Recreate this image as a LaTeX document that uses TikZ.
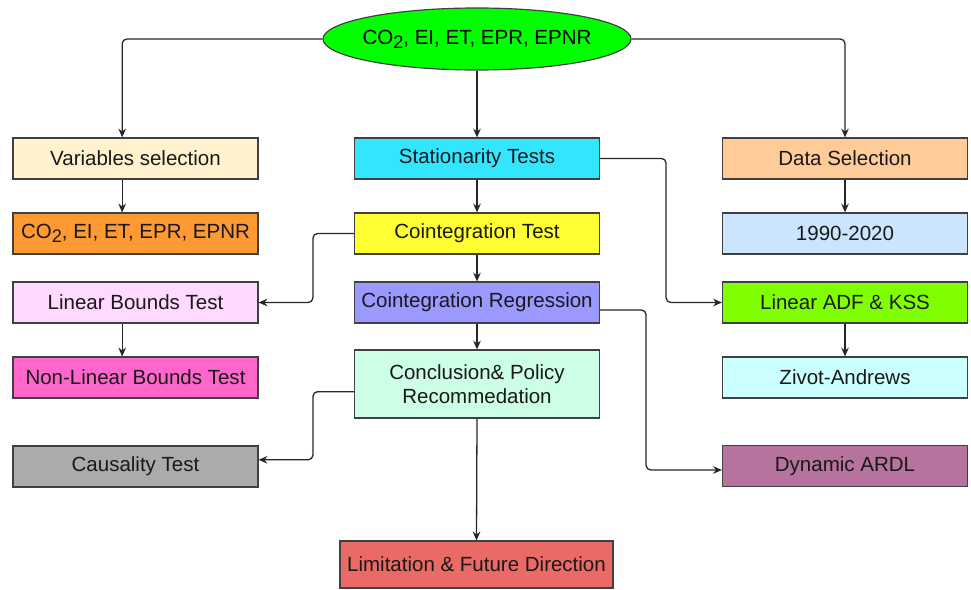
\documentclass[tikz,border=0pt]{standalone}
\usepackage{fontspec}
\setmainfont{Liberation Sans}
\usetikzlibrary{arrows.meta,shapes.geometric}

\definecolor{topgreen}{HTML}{00FF00}
\definecolor{cream}{HTML}{FFF2CC}
\definecolor{orange}{HTML}{FF9933}
\definecolor{lightpink}{HTML}{FFD9FF}
\definecolor{hotpink}{HTML}{FF66CC}
\definecolor{midgray}{HTML}{ABABAB}
\definecolor{cyan}{HTML}{33E6FF}
\definecolor{yellow}{HTML}{FFFF33}
\definecolor{lavender}{HTML}{9999FF}
\definecolor{mint}{HTML}{CCFFE6}
\definecolor{salmon}{HTML}{EA6B66}
\definecolor{peach}{HTML}{FFCC99}
\definecolor{paleblue}{HTML}{CCE5FF}
\definecolor{lime}{HTML}{80FF00}
\definecolor{palecyan}{HTML}{CCFFFF}
\definecolor{mauve}{HTML}{B5739D}

\begin{document}
\begin{tikzpicture}[x=0.03cm,y=-0.03cm]

\newcommand*{\cotwo}{CO\raisebox{-0.35ex}{\fontsize{15.5}{15.5}\selectfont 2}}

\tikzstyle {box}=[draw=black!75,line width=1pt,shape=rectangle,
     minimum width=7.35cm,minimum height=1.23cm,inner sep=0pt,
     font=\fontsize{17.5}{21}\selectfont,text=black!90,align=center];

\tikzstyle {link}=[-{Stealth[length=7.5pt,width=6.5pt]},line width=1.1pt,
     rounded corners=4pt,draw=black!85];

\useasboundingbox (0,0) rectangle (971,590);

% Top node
\draw (477,39) node [ellipse,draw=black!75,line width=1pt,fill=topgreen,
     minimum width=9.24cm,minimum height=1.86cm,inner xsep=-0.17cm,
     inner ysep=0pt,font=\fontsize{17.5}{21}\selectfont] (vars)
  {\cotwo, EI, ET, EPR, EPNR};

% Left column
\draw (135.5,158.5) node [box,fill=cream] (varsel) {Variables selection};
\draw (135.5,233.5) node [box,fill=orange] (cosel) {\cotwo, EI, ET, EPR, EPNR};
\draw (135.5,302.5) node [box,fill=lightpink] (lbt) {Linear Bounds Test};
\draw (135.5,377.5) node [box,fill=hotpink] (nlbt) {Non-Linear Bounds Test};
\draw (135.5,466.5) node [box,fill=midgray] (caus) {Causality Test};

% Middle column
\draw (477,158.5) node [box,fill=cyan] (stat) {Stationarity Tests};
\draw (477,233.5) node [box,fill=yellow] (coint) {Cointegration Test};
\draw (477,302.5) node [box,fill=lavender] (reg) {Cointegration Regression};
\draw (477,384) node [box,fill=mint,minimum height=2.04cm] (concl)
  {Conclusion\& Policy\\Recommedation};
\draw (476.5,564.5) node [box,fill=salmon,minimum width=8.19cm,
     minimum height=1.41cm] (lim) {Limitation \& Future Direction};

% Right column
\draw (845,158.5) node [box,fill=peach] (datsel) {Data Selection};
\draw (845,233.5) node [box,fill=paleblue] (years) {1990-2020};
\draw (845,302.5) node [box,fill=lime] (adf) {Linear ADF \& KSS};
\draw (845,377.5) node [box,fill=palecyan] (za) {Zivot-Andrews};
\draw (845,466) node [box,fill=mauve] (ardl) {Dynamic ARDL};

% From the top node
\draw [link] (vars.west) -| ([xshift=-0.4cm]varsel.north);
\draw [link] (vars.east) -| (datsel.north);
\draw [link] (vars.south) -- (stat.north);

% Down the columns
\draw [link] ([xshift=-0.4cm]varsel.south) -- ([xshift=-0.4cm]cosel.north);
\draw [link] ([xshift=-0.4cm]lbt.south) -- ([xshift=-0.4cm]nlbt.north);
\draw [link] (stat.south) -- (coint.north);
\draw [link] (coint.south) -- (reg.north);
\draw [link] (reg.south) -- (concl.north);
\draw [link] (concl.south) -- (lim.north);
\draw [link] (datsel.south) -- (years.north);
\draw [link] (adf.south) -- (za.north);

% Side links
\draw [link] (stat.east) -- ++(66,0) |- (adf.west);
\draw [link] (coint.west) -- ++(-41,0) |- (lbt.east);
\draw [link] ([yshift=-0.225cm]reg.east) -- ++(46,0) |- ([yshift=-0.12cm]ardl.west);
\draw [link] ([yshift=-0.23cm]concl.west) -- ++(-41,0) |- ([yshift=0.2cm]caus.east);

\end{tikzpicture}
\end{document}
